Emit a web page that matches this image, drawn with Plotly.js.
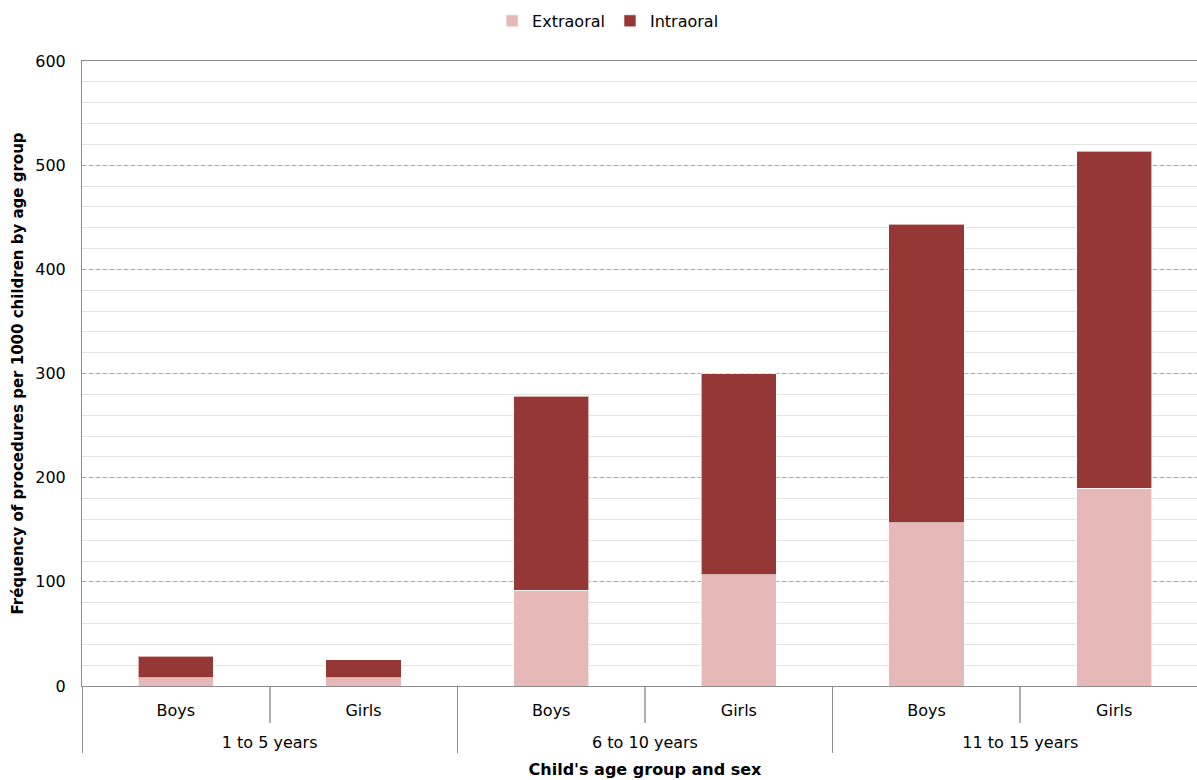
<!DOCTYPE html>
<html>
<head>
<meta charset="utf-8">
<script src="https://cdn.plot.ly/plotly-3.0.1.min.js"></script>
<style>html,body{margin:0;padding:0;background:#fff;overflow:hidden;}#chart{width:1208px;height:780px;}</style>
</head>
<body>
<div id="chart"></div>
<script>
const ageGroups = ["1 to 5 years", "1 to 5 years", "6 to 10 years", "6 to 10 years", "11 to 15 years", "11 to 15 years"];
const sexes = ["Boys", "Girls", "Boys", "Girls", "Boys", "Girls"];
const extraoral = [7.7, 7.7, 92, 106.6, 156.5, 190];
const intraoral = [21.1, 17.3, 186.4, 193, 287, 323.6];
const seriesNames = ["Extraoral", "Intraoral"];
const seriesColors = ["#E6B9B8", "#953735"];
const yTicks = [0, 100, 200, 300, 400, 500, 600];

const FONT = "DejaVu Sans, Verdana, sans-serif";
// inner-level labels padded with an empty second line to space the two label rows
const sexLabels = sexes.map(s => s + "<br> ");

const traces = [extraoral, intraoral].map((vals, i) => ({
  type: "bar",
  name: seriesNames[i],
  x: [ageGroups, sexLabels],
  y: vals,
  marker: {color: seriesColors[i], line: {color: "rgba(255,255,255,0.6)", width: 1}},
  hoverinfo: "y+name"
}));

const layout = {
  width: 1208, height: 780,
  margin: {l: 82, r: 0, t: 61, b: 94},
  barmode: "stack",
  bargap: 0.6,
  paper_bgcolor: "#fff",
  plot_bgcolor: "#fff",
  font: {family: FONT, size: 16, color: "#000"},
  showlegend: true,
  legend: {
    orientation: "h", xref: "container", yref: "container",
    x: 0.503, xanchor: "center", y: 0.995, yanchor: "top",
    font: {family: FONT, size: 16, color: "#000"},
    itemwidth: 30, traceorder: "normal"
  },
  xaxis: {
    type: "multicategory",
    showline: true, linecolor: "#8c8c8c", linewidth: 1, mirror: true,
    showgrid: false,
    ticks: "outside", tickson: "boundaries", ticklen: 36, tickcolor: "#b0b0b0", tickwidth: 2,
    showdividers: true, dividercolor: "#8c8c8c", dividerwidth: 1,
    ticklabelstandoff: 10,
    tickfont: {family: FONT, size: 16, color: "#000"},
    title: {text: "<b>Child's age group and sex</b>", font: {family: FONT, size: 16, color: "#000"}, standoff: 12},
    automargin: false
  },
  yaxis: {
    range: [0, 600],
    tickvals: yTicks,
    showline: true, linecolor: "#8c8c8c", linewidth: 1,
    showgrid: true, gridcolor: "#a8a8a8", griddash: "4px,3px", gridwidth: 1,
    zeroline: false,
    ticks: "", ticklabelstandoff: 12,
    tickfont: {family: FONT, size: 16, color: "#000"},
    minor: {dtick: 20, showgrid: true, gridcolor: "#e3e3e3", gridwidth: 1, griddash: "solid", ticks: ""},
    title: {text: "<b>Fréquency of procedures per 1000 children by age group</b>", font: {family: FONT, size: 15, color: "#000"}, standoff: 8},
    automargin: false
  }
};

Plotly.newPlot("chart", traces, layout, {displayModeBar: false, staticPlot: true});
</script>
</body>
</html>
